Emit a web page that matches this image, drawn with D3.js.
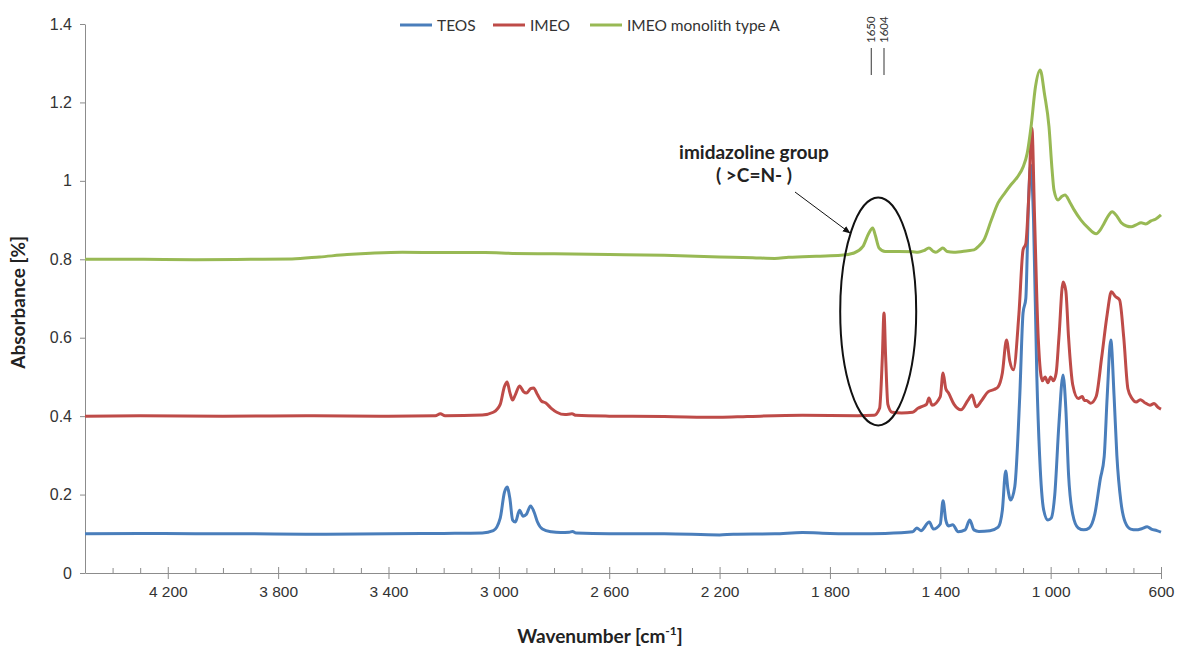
<!DOCTYPE html>
<html>
<head>
<meta charset="utf-8">
<style>
  body { margin: 0; background: #fff; font-family: Lato, "Open Sans", sans-serif; }
  svg { display: block; }
  .tick text { fill: #333; }
  .axis path, .axis line { stroke: #8c8c8c; }
</style>
<script src="https://cdnjs.cloudflare.com/ajax/libs/d3/7.8.5/d3.min.js"></script>
</head>
<body>
<svg width="1178" height="651"></svg>
<script>
// wavenumber [cm-1], absorbance
var teos = [[4500,0.100],[4300,0.101],[4100,0.100],[3900,0.100],[3700,0.099],[3400,0.100],[3200,0.101],[3060,0.102],
  [3020,0.108],[2995,0.14],[2980,0.205],[2970,0.219],[2960,0.19],[2950,0.135],[2940,0.13],[2925,0.16],[2912,0.145],
  [2900,0.15],[2885,0.171],[2872,0.155],[2860,0.13],[2842,0.112],[2810,0.105],[2776,0.103],[2745,0.104],[2733,0.106],
  [2720,0.102],[2600,0.1],[2400,0.1],[2200,0.097],[2150,0.099],[2000,0.1],[1900,0.103],[1800,0.101],[1700,0.1],
  [1600,0.101],[1500,0.105],[1485,0.115],[1470,0.108],[1440,0.13],[1425,0.112],[1400,0.125],[1390,0.184],[1380,0.135],
  [1370,0.12],[1355,0.123],[1335,0.105],[1310,0.11],[1293,0.135],[1278,0.11],[1260,0.106],[1220,0.108],[1190,0.117],
  [1175,0.16],[1163,0.26],[1155,0.215],[1145,0.186],[1130,0.22],[1112,0.45],[1100,0.663],[1090,0.7],[1080,0.95],
  [1072,1.04],[1062,0.9],[1050,0.5],[1040,0.3],[1025,0.16],[1010,0.135],[998,0.14],[985,0.2],[970,0.38],[955,0.505],
  [945,0.42],[935,0.25],[920,0.15],[900,0.115],[880,0.11],[860,0.115],[840,0.15],[820,0.24],[806,0.296],[795,0.45],
  [782,0.594],[770,0.45],[760,0.3],[745,0.18],[730,0.13],[710,0.112],[690,0.11],[670,0.113],[650,0.118],[635,0.112],
  [615,0.108],[600,0.104]];

var imeo = [[4500,0.4],[4300,0.401],[4000,0.4],[3700,0.401],[3400,0.4],[3230,0.401],[3212,0.406],[3195,0.401],
  [3060,0.403],[3020,0.41],[2995,0.43],[2980,0.475],[2970,0.487],[2960,0.46],[2950,0.441],[2940,0.455],[2925,0.477],
  [2910,0.462],[2900,0.459],[2885,0.47],[2874,0.472],[2860,0.455],[2845,0.438],[2831,0.434],[2810,0.42],[2790,0.41],
  [2760,0.404],[2735,0.406],[2720,0.402],[2600,0.4],[2400,0.399],[2200,0.397],[2100,0.399],[1900,0.402],[1700,0.401],
  [1640,0.402],[1620,0.42],[1610,0.55],[1604,0.663],[1598,0.55],[1590,0.43],[1575,0.41],[1540,0.408],[1500,0.41],
  [1481,0.42],[1465,0.425],[1450,0.43],[1441,0.446],[1430,0.428],[1400,0.45],[1390,0.51],[1380,0.47],[1370,0.459],
  [1350,0.43],[1325,0.416],[1300,0.44],[1285,0.454],[1270,0.424],[1250,0.44],[1227,0.462],[1205,0.468],[1191,0.474],
  [1175,0.51],[1160,0.594],[1148,0.54],[1135,0.518],[1115,0.66],[1100,0.824],[1090,0.84],[1080,0.95],[1068,1.135],
  [1058,0.9],[1045,0.6],[1030,0.49],[1020,0.5],[1010,0.485],[1000,0.5],[990,0.49],[980,0.51],[970,0.6],[955,0.742],
  [945,0.72],[935,0.6],[920,0.48],[900,0.445],[885,0.45],[878,0.44],[870,0.44],[855,0.433],[835,0.45],[815,0.55],
  [795,0.66],[780,0.717],[765,0.705],[750,0.696],[735,0.6],[720,0.47],[705,0.445],[690,0.436],[675,0.442],[660,0.435],
  [640,0.428],[625,0.432],[610,0.422],[600,0.418]];

var monolith = [[4500,0.8],[4300,0.8],[4100,0.799],[3900,0.8],[3750,0.801],[3650,0.806],[3550,0.812],[3450,0.816],
  [3350,0.818],[3200,0.817],[3050,0.817],[2950,0.815],[2800,0.814],[2600,0.812],[2400,0.81],[2200,0.806],[2080,0.804],
  [2000,0.802],[1950,0.805],[1850,0.808],[1760,0.81],[1713,0.816],[1681,0.832],[1660,0.865],[1645,0.88],[1635,0.86],
  [1622,0.829],[1600,0.82],[1550,0.82],[1500,0.819],[1481,0.818],[1460,0.822],[1441,0.829],[1425,0.82],[1416,0.818],
  [1400,0.825],[1391,0.829],[1375,0.82],[1351,0.818],[1300,0.822],[1278,0.824],[1260,0.834],[1242,0.849],[1215,0.9],
  [1191,0.943],[1165,0.97],[1144,0.99],[1120,1.01],[1100,1.035],[1085,1.07],[1071,1.138],[1055,1.24],[1038,1.283],
  [1022,1.22],[1006,1.138],[995,1.03],[988,0.977],[973,0.951],[960,0.96],[948,0.964],[930,0.945],[915,0.926],
  [890,0.9],[864,0.88],[835,0.865],[820,0.875],[806,0.892],[790,0.912],[777,0.921],[760,0.91],[744,0.893],[725,0.885],
  [708,0.883],[690,0.888],[672,0.893],[655,0.89],[636,0.898],[620,0.902],[600,0.913]];

var seriesNames = ["TEOS", "IMEO", "IMEO monolith type A"];
var seriesColors = ["#4a7ebb", "#be4b48", "#98b954"];
var xTicks = [4200, 3800, 3400, 3000, 2600, 2200, 1800, 1400, 1000, 600];
var yTicks = [0, 0.2, 0.4, 0.6, 0.8, 1, 1.2, 1.4];
var markedBands = [1650, 1604];

var svg = d3.select("svg");
var x = d3.scaleLinear().domain([4500, 600]).range([85, 1161]);
var y = d3.scaleLinear().domain([0, 1.4]).range([573, 24]);

var fmt = d3.formatLocale({decimal: ".", thousands: " ", grouping: [3], currency: ["", ""]}).format(",");

// x axis: minor ticks inside, major crossing
var xa = svg.append("g").attr("class", "axis").attr("transform", "translate(0," + y(0) + ")");
xa.call(d3.axisBottom(x).tickValues(d3.range(4400, 599, -100)).tickSize(-5).tickFormat(""));
xa.selectAll(".tick").filter(function(d) { return xTicks.indexOf(d) >= 0; }).remove();
xa.select(".domain").remove();
var xb = svg.append("g").attr("class", "axis").attr("transform", "translate(0," + y(0) + ")");
xb.call(d3.axisBottom(x).tickValues(xTicks).tickSize(6).tickSizeOuter(0).tickFormat(fmt).tickPadding(7));
xb.selectAll(".tick line").attr("y1", -6);
xb.selectAll(".tick text").attr("font-size", 15.5);

var ya = svg.append("g").attr("class", "axis").attr("transform", "translate(" + x(4500) + ",0)");
ya.call(d3.axisLeft(y).tickValues(yTicks).tickSize(5).tickSizeOuter(0).tickPadding(8)
  .tickFormat(function(d) { return d === 0 || d === 1 ? String(d) : d.toFixed(1); }));
ya.selectAll(".tick text").attr("font-size", 16);

// axis titles
svg.append("text").attr("transform", "translate(25," + (y(0.69)) + ") rotate(-90)")
  .attr("text-anchor", "middle").attr("font-weight", "bold").attr("font-size", 19).attr("fill", "#222")
  .text("Absorbance [%]");
var xt = svg.append("text").attr("x", 600).attr("y", 643).attr("text-anchor", "middle")
  .attr("font-weight", "bold").attr("font-size", 19).attr("fill", "#222");
xt.append("tspan").text("Wavenumber [cm");
xt.append("tspan").attr("font-size", 12).attr("dy", -8).text("-1");
xt.append("tspan").attr("dy", 8).text("]");

// spectra
var line = d3.line().x(function(d) { return x(d[0]); }).y(function(d) { return y(d[1]); })
  .curve(d3.curveMonotoneX);
[teos, imeo, monolith].forEach(function(s, i) {
  svg.append("path").datum(s).attr("d", line).attr("fill", "none")
    .attr("stroke", seriesColors[i]).attr("stroke-width", 3).attr("stroke-linejoin", "round");
});

// legend
var legendX = [400, 493, 590];
seriesNames.forEach(function(n, i) {
  var g = svg.append("g").attr("transform", "translate(" + legendX[i] + ",25)");
  g.append("line").attr("x1", 0).attr("x2", 32).attr("stroke", seriesColors[i]).attr("stroke-width", 3);
  g.append("text").attr("x", 37).attr("y", 5.5).attr("font-size", 15.5).attr("fill", "#333").text(n);
});

// band markers
markedBands.forEach(function(b) {
  svg.append("line").attr("x1", x(b)).attr("x2", x(b)).attr("y1", 48).attr("y2", 75)
    .attr("stroke", "#555").attr("stroke-width", 1.2);
  svg.append("text").attr("transform", "translate(" + (x(b) + 4) + ",43) rotate(-90)")
    .attr("font-size", 11.5).attr("fill", "#333").text(b);
});

// imidazoline annotation
svg.append("defs").append("marker").attr("id", "arr").attr("viewBox", "0 0 10 10")
  .attr("refX", 9).attr("refY", 5).attr("markerWidth", 8).attr("markerHeight", 8).attr("orient", "auto")
  .append("path").attr("d", "M0,1 L10,5 L0,9 Z").attr("fill", "#111");
svg.append("ellipse").attr("cx", x(1625)).attr("cy", y(0.667)).attr("rx", 38).attr("ry", 114)
  .attr("fill", "none").attr("stroke", "#111").attr("stroke-width", 2);
svg.append("line").attr("x1", 795).attr("y1", 192).attr("x2", 850).attr("y2", 233)
  .attr("stroke", "#111").attr("stroke-width", 1).attr("marker-end", "url(#arr)");
svg.append("text").attr("x", 754).attr("y", 159).attr("text-anchor", "middle").attr("font-weight", "bold")
  .attr("font-size", 19).attr("fill", "#222").text("imidazoline group");
svg.append("text").attr("x", 754).attr("y", 182).attr("text-anchor", "middle").attr("font-weight", "bold")
  .attr("font-size", 19).attr("fill", "#222").text("( >C=N- )");
</script>
</body>
</html>
